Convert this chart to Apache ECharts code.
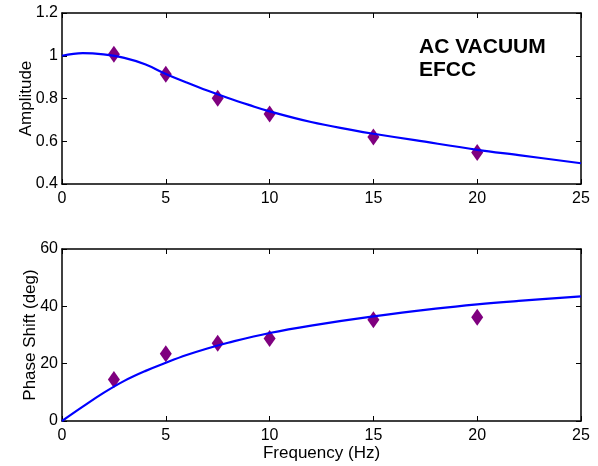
<!DOCTYPE html>
<html>
<head>
<meta charset="utf-8">
<script src="https://cdn.jsdelivr.net/npm/echarts@6/dist/echarts.min.js"></script>
<style>
  html, body { margin: 0; padding: 0; background: #fff; }
  #chart { width: 598px; height: 466px; }
</style>
</head>
<body>
<div id="chart"></div>
<script>
// fitted curves
const curveFreq = [0, 1, 2, 3, 4, 5, 6, 7, 8, 9, 10, 12, 14, 15, 17, 20, 22, 25];
const curveAmp = [1.0, 1.012, 1.006, 0.99, 0.96, 0.915, 0.875, 0.837, 0.802, 0.77, 0.74, 0.69, 0.652, 0.635, 0.605, 0.56, 0.535, 0.497];
const phaseFreq = [0, 1, 2, 3, 4, 5, 6, 7, 8, 10, 12, 15, 18, 20, 22, 25];
const curvePhase = [0, 5, 9.8, 14, 17.4, 20.3, 23, 25.3, 27.3, 30.7, 33.3, 36.5, 39.2, 40.7, 41.9, 43.5];

// measured points
const measFreq = [2.5, 5, 7.5, 10, 15, 20];
const measAmp = [1.007, 0.913, 0.801, 0.728, 0.62, 0.547];
const measPhase = [14.5, 23.5, 27.1, 28.8, 35.3, 36.2];

const font = 'Liberation Sans, Arial, sans-serif';

function pairs(xs, ys) {
  return xs.map(function (x, i) { return [x, ys[i]]; });
}

function xAxisFor(gridIndex, name, position, labels) {
  return {
    type: 'value', gridIndex: gridIndex, position: position,
    min: 0, max: 25, interval: 5,
    name: name, nameLocation: 'middle', nameGap: 22,
    nameTextStyle: { color: '#000', fontSize: 17, fontFamily: font },
    axisLine: { show: true, onZero: false, lineStyle: { color: '#000', width: 1.5 } },
    axisTick: { show: true, inside: true, length: 5, lineStyle: { color: '#000' } },
    axisLabel: { show: labels, color: '#000', fontSize: 16, fontFamily: font, margin: 7 },
    splitLine: { show: false }
  };
}

function yAxisFor(gridIndex, name, position, labels, min, max, interval, gap) {
  return {
    type: 'value', gridIndex: gridIndex, position: position,
    min: min, max: max, interval: interval,
    name: name, nameLocation: 'middle', nameGap: gap, nameRotate: 90,
    nameMoveOverlap: false,
    nameTextStyle: { color: '#000', fontSize: 17, fontFamily: font },
    axisLine: { show: true, onZero: false, lineStyle: { color: '#000', width: 1.5 } },
    axisTick: { show: true, inside: true, length: 5, lineStyle: { color: '#000' } },
    axisLabel: { show: labels, color: '#000', fontSize: 16, fontFamily: font, margin: 4 },
    splitLine: { show: false }
  };
}

const chart = echarts.init(document.getElementById('chart'));
chart.setOption({
  animation: false,
  backgroundColor: '#fff',
  grid: [
    { left: 62, top: 13, width: 519, height: 171 },
    { left: 62, top: 249, width: 519, height: 172 }
  ],
  xAxis: [
    xAxisFor(0, '', 'bottom', true),
    xAxisFor(0, '', 'top', false),
    xAxisFor(1, 'Frequency (Hz)', 'bottom', true),
    xAxisFor(1, '', 'top', false)
  ],
  yAxis: [
    yAxisFor(0, 'Amplitude', 'left', true, 0.4, 1.2, 0.2, 27),
    yAxisFor(0, '', 'right', false, 0.4, 1.2, 0.2, 27),
    yAxisFor(1, 'Phase Shift (deg)', 'left', true, 0, 60, 20, 23),
    yAxisFor(1, '', 'right', false, 0, 60, 20, 23)
  ],
  graphic: [{
    type: 'text', left: 419, top: 35,
    style: {
      text: 'AC VACUUM\nEFCC', fill: '#000', fontSize: 21, fontWeight: 'bold',
      fontFamily: font, lineHeight: 23.5
    }
  }],
  series: [
    {
      type: 'line', xAxisIndex: 0, yAxisIndex: 0, data: pairs(curveFreq, curveAmp),
      smooth: 0.4, showSymbol: false, lineStyle: { color: '#0000ff', width: 2.2 }
    },
    {
      type: 'scatter', xAxisIndex: 0, yAxisIndex: 0, data: pairs(measFreq, measAmp),
      symbol: 'diamond', symbolSize: [12, 17], itemStyle: { color: '#7f007f', opacity: 1 }
    },
    {
      type: 'line', xAxisIndex: 2, yAxisIndex: 2, data: pairs(phaseFreq, curvePhase),
      smooth: 0.4, showSymbol: false, lineStyle: { color: '#0000ff', width: 2.2 }
    },
    {
      type: 'scatter', xAxisIndex: 2, yAxisIndex: 2, data: pairs(measFreq, measPhase),
      symbol: 'diamond', symbolSize: [12, 17], itemStyle: { color: '#7f007f', opacity: 1 }
    }
  ]
});
</script>
</body>
</html>
